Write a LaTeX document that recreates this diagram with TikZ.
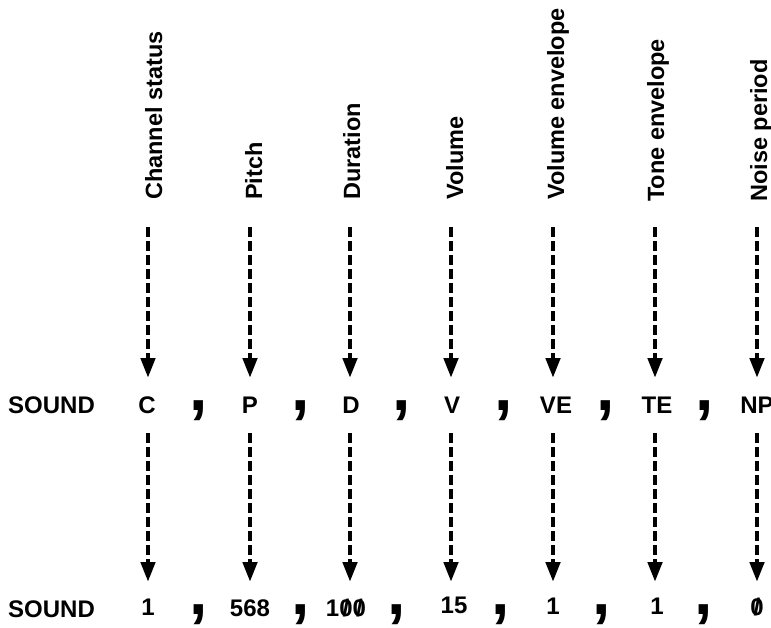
\documentclass[tikz,border=0pt]{standalone}
\usepackage{fontspec}
\setmainfont{Liberation Sans}
\newfontfamily\commafont{Liberation Sans Bold}
\newfontfamily\heavyfont{Liberation Sans Bold}
\usetikzlibrary{arrows.meta}
\newcommand\slz{\ooalign{\hfil0\hfil\cr\hfil/\hfil\cr}}
\tikzset{
  lab/.style={rotate=90, anchor=base west, inner sep=0pt, font=\fontsize{23.5}{23.5}\heavyfont},
  txt/.style={anchor=base, inner sep=0pt, font=\fontsize{24}{24}\heavyfont},
  commastyle/.style={anchor=base, inner sep=0pt, font=\fontsize{66}{66}\commafont},
  arrowline/.style={line width=4.5pt, dash pattern=on 10pt off 4pt, -{Triangle[length=20pt,width=14pt]}}
}
\begin{document}
\begin{tikzpicture}[x=1pt,y=-1pt]
\useasboundingbox (0,0) rectangle (771,627);
% rotated labels
\node[lab] (l1) at (162,200) {Channel status};
\node[lab] (l2) at (262,200) {Pitch};
\node[lab] (l3) at (360,200) {Duration};
\node[lab] (l4) at (463,200) {Volume};
\node[lab] (l5) at (564,200) {Volume envelope};
\node[lab] (l6) at (664,202) {Tone envelope};
\node[lab] (l7) at (767,202) {Noise period};
% upper row
\node[txt, anchor=base west] (s1) at (8,413) {SOUND};
\node[txt] (c) at (147,413) {C};
\node[txt] (p) at (250,413) {P};
\node[txt] (d) at (351,413) {D};
\node[txt] (v) at (452,413) {V};
\node[txt] (ve) at (556,413) {VE};
\node[txt] (te) at (657,413) {TE};
\node[txt] (np) at (757,413) {NP};
\foreach \x [count=\i] in {199,301,402,504,606,705}
  \node[commastyle] (uc\i) at (\x,410) {,};
% lower row
\node[txt, anchor=base west] (s2) at (8,617) {SOUND};
\node[txt] (n1) at (148,615) {1};
\node[txt] (n2) at (250,616) {568};
\node[txt] (n3) at (346,616) {1\slz\slz};
\node[txt] (n4) at (454,613) {15};
\node[txt] (n5) at (553,614) {1};
\node[txt] (n6) at (657,614) {1};
\node[txt] (n7) at (757,615) {\slz};
\foreach \x [count=\i] in {199,301,397,501,602,704}
  \node[commastyle] (lc\i) at (\x,614) {,};
% arrows
\foreach \x [count=\i] in {148,250,350,451,553,655,757} {
  \coordinate (ta\i) at (\x,227);
  \coordinate (tb\i) at (\x,378);
  \coordinate (ba\i) at (\x,433);
  \coordinate (bb\i) at (\x,582);
  \draw[arrowline] (ta\i) -- (tb\i);
  \draw[arrowline] (ba\i) -- (bb\i);
}
\end{tikzpicture}
\end{document}
